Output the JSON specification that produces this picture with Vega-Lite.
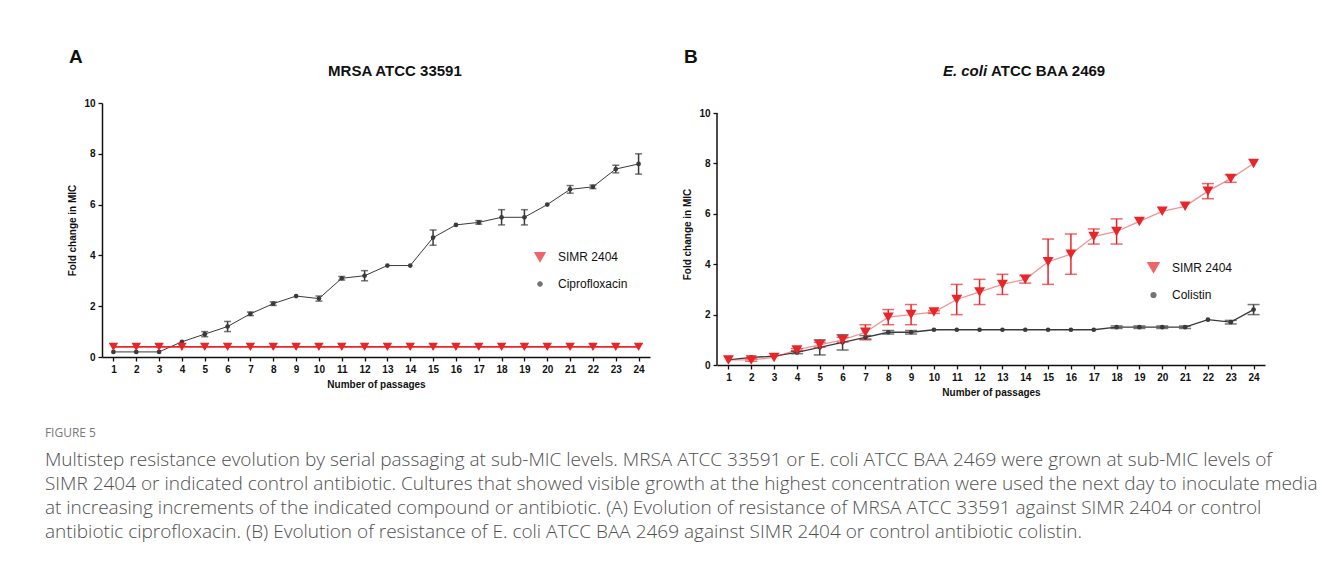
{
  "$schema": "https://vega.github.io/schema/vega-lite/v6.json",
  "background": "white",
  "padding": {"left": 44, "top": 48, "right": 5, "bottom": 5},
  "columns": 2,
  "align": "none",
  "spacing": 32,
  "resolve": {
    "scale": {"color": "independent", "shape": "independent", "size": "independent", "strokeWidth": "independent", "strokeOpacity": "independent", "x": "independent", "y": "independent"},
    "legend": {"color": "independent", "shape": "independent", "size": "independent"}
  },
  "datasets": {
    "A": [
      {"passage": 1, "series": "Ciprofloxacin", "mean": 0.2, "err": 0},
      {"passage": 2, "series": "Ciprofloxacin", "mean": 0.2, "err": 0},
      {"passage": 3, "series": "Ciprofloxacin", "mean": 0.2, "err": 0},
      {"passage": 4, "series": "Ciprofloxacin", "mean": 0.6, "err": 0},
      {"passage": 5, "series": "Ciprofloxacin", "mean": 0.9, "err": 0.1},
      {"passage": 6, "series": "Ciprofloxacin", "mean": 1.2, "err": 0.2},
      {"passage": 7, "series": "Ciprofloxacin", "mean": 1.7, "err": 0.07},
      {"passage": 8, "series": "Ciprofloxacin", "mean": 2.1, "err": 0.07},
      {"passage": 9, "series": "Ciprofloxacin", "mean": 2.4, "err": 0},
      {"passage": 10, "series": "Ciprofloxacin", "mean": 2.3, "err": 0.1},
      {"passage": 11, "series": "Ciprofloxacin", "mean": 3.1, "err": 0.07},
      {"passage": 12, "series": "Ciprofloxacin", "mean": 3.2, "err": 0.2},
      {"passage": 13, "series": "Ciprofloxacin", "mean": 3.6, "err": 0},
      {"passage": 14, "series": "Ciprofloxacin", "mean": 3.6, "err": 0},
      {"passage": 15, "series": "Ciprofloxacin", "mean": 4.7, "err": 0.3},
      {"passage": 16, "series": "Ciprofloxacin", "mean": 5.2, "err": 0},
      {"passage": 17, "series": "Ciprofloxacin", "mean": 5.3, "err": 0.07},
      {"passage": 18, "series": "Ciprofloxacin", "mean": 5.5, "err": 0.3},
      {"passage": 19, "series": "Ciprofloxacin", "mean": 5.5, "err": 0.3},
      {"passage": 20, "series": "Ciprofloxacin", "mean": 6.0, "err": 0},
      {"passage": 21, "series": "Ciprofloxacin", "mean": 6.6, "err": 0.15},
      {"passage": 22, "series": "Ciprofloxacin", "mean": 6.7, "err": 0.07},
      {"passage": 23, "series": "Ciprofloxacin", "mean": 7.4, "err": 0.15},
      {"passage": 24, "series": "Ciprofloxacin", "mean": 7.6, "err": 0.4},
      {"passage": 1, "series": "SIMR 2404", "mean": 0.4, "err": 0},
      {"passage": 2, "series": "SIMR 2404", "mean": 0.4, "err": 0},
      {"passage": 3, "series": "SIMR 2404", "mean": 0.4, "err": 0},
      {"passage": 4, "series": "SIMR 2404", "mean": 0.4, "err": 0},
      {"passage": 5, "series": "SIMR 2404", "mean": 0.4, "err": 0},
      {"passage": 6, "series": "SIMR 2404", "mean": 0.4, "err": 0},
      {"passage": 7, "series": "SIMR 2404", "mean": 0.4, "err": 0},
      {"passage": 8, "series": "SIMR 2404", "mean": 0.4, "err": 0},
      {"passage": 9, "series": "SIMR 2404", "mean": 0.4, "err": 0},
      {"passage": 10, "series": "SIMR 2404", "mean": 0.4, "err": 0},
      {"passage": 11, "series": "SIMR 2404", "mean": 0.4, "err": 0},
      {"passage": 12, "series": "SIMR 2404", "mean": 0.4, "err": 0},
      {"passage": 13, "series": "SIMR 2404", "mean": 0.4, "err": 0},
      {"passage": 14, "series": "SIMR 2404", "mean": 0.4, "err": 0},
      {"passage": 15, "series": "SIMR 2404", "mean": 0.4, "err": 0},
      {"passage": 16, "series": "SIMR 2404", "mean": 0.4, "err": 0},
      {"passage": 17, "series": "SIMR 2404", "mean": 0.4, "err": 0},
      {"passage": 18, "series": "SIMR 2404", "mean": 0.4, "err": 0},
      {"passage": 19, "series": "SIMR 2404", "mean": 0.4, "err": 0},
      {"passage": 20, "series": "SIMR 2404", "mean": 0.4, "err": 0},
      {"passage": 21, "series": "SIMR 2404", "mean": 0.4, "err": 0},
      {"passage": 22, "series": "SIMR 2404", "mean": 0.4, "err": 0},
      {"passage": 23, "series": "SIMR 2404", "mean": 0.4, "err": 0},
      {"passage": 24, "series": "SIMR 2404", "mean": 0.4, "err": 0}
    ],
    "B": [
      {"passage": 1, "series": "Colistin", "mean": 0.2, "err": 0},
      {"passage": 2, "series": "Colistin", "mean": 0.3, "err": 0},
      {"passage": 3, "series": "Colistin", "mean": 0.35, "err": 0},
      {"passage": 4, "series": "Colistin", "mean": 0.5, "err": 0.05},
      {"passage": 5, "series": "Colistin", "mean": 0.7, "err": 0.3},
      {"passage": 6, "series": "Colistin", "mean": 0.9, "err": 0.3},
      {"passage": 7, "series": "Colistin", "mean": 1.1, "err": 0.07},
      {"passage": 8, "series": "Colistin", "mean": 1.3, "err": 0.07},
      {"passage": 9, "series": "Colistin", "mean": 1.3, "err": 0.07},
      {"passage": 10, "series": "Colistin", "mean": 1.4, "err": 0},
      {"passage": 11, "series": "Colistin", "mean": 1.4, "err": 0},
      {"passage": 12, "series": "Colistin", "mean": 1.4, "err": 0},
      {"passage": 13, "series": "Colistin", "mean": 1.4, "err": 0},
      {"passage": 14, "series": "Colistin", "mean": 1.4, "err": 0},
      {"passage": 15, "series": "Colistin", "mean": 1.4, "err": 0},
      {"passage": 16, "series": "Colistin", "mean": 1.4, "err": 0},
      {"passage": 17, "series": "Colistin", "mean": 1.4, "err": 0},
      {"passage": 18, "series": "Colistin", "mean": 1.5, "err": 0.05},
      {"passage": 19, "series": "Colistin", "mean": 1.5, "err": 0.05},
      {"passage": 20, "series": "Colistin", "mean": 1.5, "err": 0.05},
      {"passage": 21, "series": "Colistin", "mean": 1.5, "err": 0.05},
      {"passage": 22, "series": "Colistin", "mean": 1.8, "err": 0},
      {"passage": 23, "series": "Colistin", "mean": 1.7, "err": 0.07},
      {"passage": 24, "series": "Colistin", "mean": 2.2, "err": 0.2},
      {"passage": 1, "series": "SIMR 2404", "mean": 0.2, "err": 0},
      {"passage": 2, "series": "SIMR 2404", "mean": 0.2, "err": 0.05},
      {"passage": 3, "series": "SIMR 2404", "mean": 0.3, "err": 0},
      {"passage": 4, "series": "SIMR 2404", "mean": 0.6, "err": 0.05},
      {"passage": 5, "series": "SIMR 2404", "mean": 0.8, "err": 0.1},
      {"passage": 6, "series": "SIMR 2404", "mean": 1.0, "err": 0.1},
      {"passage": 7, "series": "SIMR 2404", "mean": 1.3, "err": 0.3},
      {"passage": 8, "series": "SIMR 2404", "mean": 1.9, "err": 0.3},
      {"passage": 9, "series": "SIMR 2404", "mean": 2.0, "err": 0.4},
      {"passage": 10, "series": "SIMR 2404", "mean": 2.1, "err": 0.05},
      {"passage": 11, "series": "SIMR 2404", "mean": 2.6, "err": 0.6},
      {"passage": 12, "series": "SIMR 2404", "mean": 2.9, "err": 0.5},
      {"passage": 13, "series": "SIMR 2404", "mean": 3.2, "err": 0.4},
      {"passage": 14, "series": "SIMR 2404", "mean": 3.4, "err": 0.15},
      {"passage": 15, "series": "SIMR 2404", "mean": 4.1, "err": 0.9},
      {"passage": 16, "series": "SIMR 2404", "mean": 4.4, "err": 0.8},
      {"passage": 17, "series": "SIMR 2404", "mean": 5.1, "err": 0.3},
      {"passage": 18, "series": "SIMR 2404", "mean": 5.3, "err": 0.5},
      {"passage": 19, "series": "SIMR 2404", "mean": 5.7, "err": 0},
      {"passage": 20, "series": "SIMR 2404", "mean": 6.1, "err": 0},
      {"passage": 21, "series": "SIMR 2404", "mean": 6.3, "err": 0},
      {"passage": 22, "series": "SIMR 2404", "mean": 6.9, "err": 0.3},
      {"passage": 23, "series": "SIMR 2404", "mean": 7.4, "err": 0.15},
      {"passage": 24, "series": "SIMR 2404", "mean": 8.0, "err": 0}
    ]
  },
  "title": {
    "text": "FIGURE 5",
    "subtitle": [
      "Multistep resistance evolution by serial passaging at sub-MIC levels. MRSA ATCC 33591 or E. coli ATCC BAA 2469 were grown at sub-MIC levels of",
      "SIMR 2404 or indicated control antibiotic. Cultures that showed visible growth at the highest concentration were used the next day to inoculate media",
      "at increasing increments of the indicated compound or antibiotic. (A) Evolution of resistance of MRSA ATCC 33591 against SIMR 2404 or control",
      "antibiotic ciprofloxacin. (B) Evolution of resistance of E. coli ATCC BAA 2469 against SIMR 2404 or control antibiotic colistin."
    ],
    "orient": "bottom",
    "anchor": "start",
    "frame": "bounds",
    "dx": -23,
    "offset": 31,
    "font": "Open Sans",
    "fontSize": 12,
    "fontWeight": "normal",
    "color": "#7a7a7a",
    "subtitleFont": "Open Sans",
    "subtitleFontSize": 19,
    "subtitleFontWeight": 300,
    "subtitleColor": "#505050",
    "subtitleLineHeight": 24,
    "subtitlePadding": 11
  },
  "concat": [
    {
      "width": 548,
      "height": 254,
      "layer": [
        {
          "data": {"name": "A"},
          "encoding": {
            "x": {"field": "passage", "type": "quantitative", "scale": {"domain": [0.5, 24.5], "nice": false, "zero": false},
                  "axis": {"values": [1,2,3,4,5,6,7,8,9,10,11,12,13,14,15,16,17,18,19,20,21,22,23,24], "title": "Number of passages", "labelOverlap": false}},
            "y": {"field": "mean", "type": "quantitative", "scale": {"domain": [0, 10], "nice": false},
                  "axis": {"values": [0,2,4,6,8,10], "title": "Fold change in MIC"}},
            "color": {"field": "series", "type": "nominal", "title": null,
                      "scale": {"domain": ["SIMR 2404", "Ciprofloxacin"], "range": ["#e8262a", "#3a3a3a"]},
                      "legend": {"orient": "none", "legendX": 432, "legendY": 148}}
          },
          "layer": [
            {
              "mark": {"type": "line"},
              "encoding": {
                "strokeWidth": {"field": "series", "type": "nominal", "scale": {"domain": ["SIMR 2404", "Ciprofloxacin"], "range": [1.6, 1]}, "legend": null}
              }
            },
            {
              "transform": [{"filter": "datum.err > 0"}],
              "mark": {"type": "errorbar", "ticks": {"size": 7}, "thickness": 1.5},
              "encoding": {"yError": {"field": "err"}}
            },
            {
              "mark": {"type": "point", "filled": true, "opacity": 1},
              "encoding": {
                "shape": {"field": "series", "type": "nominal", "scale": {"domain": ["SIMR 2404", "Ciprofloxacin"], "range": ["triangle-down", "circle"]}, "title": null},
                "size": {"field": "series", "type": "nominal", "scale": {"domain": ["SIMR 2404", "Ciprofloxacin"], "range": [90, 22]}, "title": null}
              }
            }
          ]
        },
        {
          "data": {"values": [{"t": "MRSA ATCC 33591"}]},
          "mark": {"type": "text", "clip": false, "color": "#111", "font": "Liberation Sans", "fontWeight": "bold", "fontSize": 15, "align": "center", "baseline": "middle"},
          "encoding": {
            "x": {"datum": 13.33, "type": "quantitative", "axis": {"values": [1,2,3,4,5,6,7,8,9,10,11,12,13,14,15,16,17,18,19,20,21,22,23,24], "title": "Number of passages", "labelOverlap": false}},
            "y": {"datum": 11.26, "type": "quantitative", "axis": {"values": [0,2,4,6,8,10], "title": "Fold change in MIC"}},
            "text": {"field": "t", "type": "nominal"}}
        },
        {
          "data": {"values": [{"t": "A"}]},
          "mark": {"type": "text", "clip": false, "color": "#111", "font": "Liberation Sans", "fontWeight": "bold", "fontSize": 19, "align": "center", "baseline": "middle"},
          "encoding": {
            "x": {"datum": -0.64, "type": "quantitative", "axis": {"values": [1,2,3,4,5,6,7,8,9,10,11,12,13,14,15,16,17,18,19,20,21,22,23,24], "title": "Number of passages", "labelOverlap": false}},
            "y": {"datum": 11.81, "type": "quantitative", "axis": {"values": [0,2,4,6,8,10], "title": "Fold change in MIC"}},
            "text": {"field": "t", "type": "nominal"}}
        }
      ]
    },
    {
      "width": 548,
      "height": 262,
      "layer": [
        {
          "data": {"name": "B"},
          "encoding": {
            "x": {"field": "passage", "type": "quantitative", "scale": {"domain": [0.5, 24.5], "nice": false, "zero": false},
                  "axis": {"values": [1,2,3,4,5,6,7,8,9,10,11,12,13,14,15,16,17,18,19,20,21,22,23,24], "title": "Number of passages", "labelOverlap": false}},
            "y": {"field": "mean", "type": "quantitative", "scale": {"domain": [0, 10.4], "nice": false},
                  "axis": {"values": [0,2,4,6,8,10], "title": "Fold change in MIC", "domain": false}},
            "color": {"field": "series", "type": "nominal", "title": null,
                      "scale": {"domain": ["SIMR 2404", "Colistin"], "range": ["#e8262a", "#3a3a3a"]},
                      "legend": {"orient": "none", "legendX": 430, "legendY": 158}}
          },
          "layer": [
            {
              "mark": {"type": "line", "strokeWidth": 1.3},
              "encoding": {
                "strokeOpacity": {"field": "series", "type": "nominal", "scale": {"domain": ["SIMR 2404", "Colistin"], "range": [0.5, 1]}, "legend": null}
              }
            },
            {
              "transform": [{"filter": "datum.err > 0"}],
              "mark": {"type": "errorbar", "ticks": {"size": 12}, "thickness": 1.5},
              "encoding": {"yError": {"field": "err"}}
            },
            {
              "mark": {"type": "point", "filled": true, "opacity": 1},
              "encoding": {
                "shape": {"field": "series", "type": "nominal", "scale": {"domain": ["SIMR 2404", "Colistin"], "range": ["triangle-down", "circle"]}, "title": null},
                "size": {"field": "series", "type": "nominal", "scale": {"domain": ["SIMR 2404", "Colistin"], "range": [120, 22]}, "title": null}
              }
            }
          ]
        },
        {
          "data": {"values": [{"t": "axis"}]},
          "mark": {"type": "rule", "color": "#111", "strokeWidth": 1.5},
          "encoding": {
            "x": {"datum": 0.5, "type": "quantitative", "axis": {"values": [1,2,3,4,5,6,7,8,9,10,11,12,13,14,15,16,17,18,19,20,21,22,23,24], "title": "Number of passages", "labelOverlap": false}},
            "y": {"datum": 0, "type": "quantitative", "axis": {"values": [0,2,4,6,8,10], "title": "Fold change in MIC", "domain": false}},
            "y2": {"datum": 10}}
        },
        {
          "data": {"values": [{"t": "E. coli"}]},
          "mark": {"type": "text", "clip": false, "color": "#111", "font": "Liberation Sans", "fontWeight": "bold", "fontStyle": "italic", "fontSize": 15, "align": "right", "baseline": "middle"},
          "encoding": {
            "x": {"datum": 12.33, "type": "quantitative", "axis": {"values": [1,2,3,4,5,6,7,8,9,10,11,12,13,14,15,16,17,18,19,20,21,22,23,24], "title": "Number of passages", "labelOverlap": false}},
            "y": {"datum": 11.67, "type": "quantitative", "axis": {"values": [0,2,4,6,8,10], "title": "Fold change in MIC", "domain": false}},
            "text": {"field": "t", "type": "nominal"}}
        },
        {
          "data": {"values": [{"t": "ATCC BAA 2469"}]},
          "mark": {"type": "text", "clip": false, "color": "#111", "font": "Liberation Sans", "fontWeight": "bold", "fontSize": 15, "align": "left", "baseline": "middle"},
          "encoding": {
            "x": {"datum": 12.5, "type": "quantitative", "axis": {"values": [1,2,3,4,5,6,7,8,9,10,11,12,13,14,15,16,17,18,19,20,21,22,23,24], "title": "Number of passages", "labelOverlap": false}},
            "y": {"datum": 11.67, "type": "quantitative", "axis": {"values": [0,2,4,6,8,10], "title": "Fold change in MIC", "domain": false}},
            "text": {"field": "t", "type": "nominal"}}
        },
        {
          "data": {"values": [{"t": "B"}]},
          "mark": {"type": "text", "clip": false, "color": "#111", "font": "Liberation Sans", "fontWeight": "bold", "fontSize": 19, "align": "center", "baseline": "middle"},
          "encoding": {
            "x": {"datum": -0.64, "type": "quantitative", "axis": {"values": [1,2,3,4,5,6,7,8,9,10,11,12,13,14,15,16,17,18,19,20,21,22,23,24], "title": "Number of passages", "labelOverlap": false}},
            "y": {"datum": 12.22, "type": "quantitative", "axis": {"values": [0,2,4,6,8,10], "title": "Fold change in MIC", "domain": false}},
            "text": {"field": "t", "type": "nominal"}}
        }
      ]
    }
  ],
  "config": {
    "font": "Liberation Sans",
    "view": {"stroke": null},
    "axis": {
      "grid": false,
      "domainColor": "#111",
      "domainWidth": 1.5,
      "tickColor": "#111",
      "tickWidth": 1.3,
      "tickSize": 4,
      "labelOverlap": false,
      "labelFont": "Liberation Sans",
      "labelFontWeight": "bold",
      "labelFontSize": 10,
      "labelColor": "#111",
      "labelPadding": 3,
      "titleFont": "Liberation Sans",
      "titleFontWeight": "bold",
      "titleFontSize": 10,
      "titleColor": "#111"
    },
    "axisY": {"titlePadding": 6},
    "axisX": {"titlePadding": 5, "labelFlush": false},
    "legend": {
      "labelFont": "Liberation Sans",
      "labelFontSize": 12,
      "labelColor": "#111",
      "rowPadding": 13,
      "labelOffset": 12
    }
  }
}
